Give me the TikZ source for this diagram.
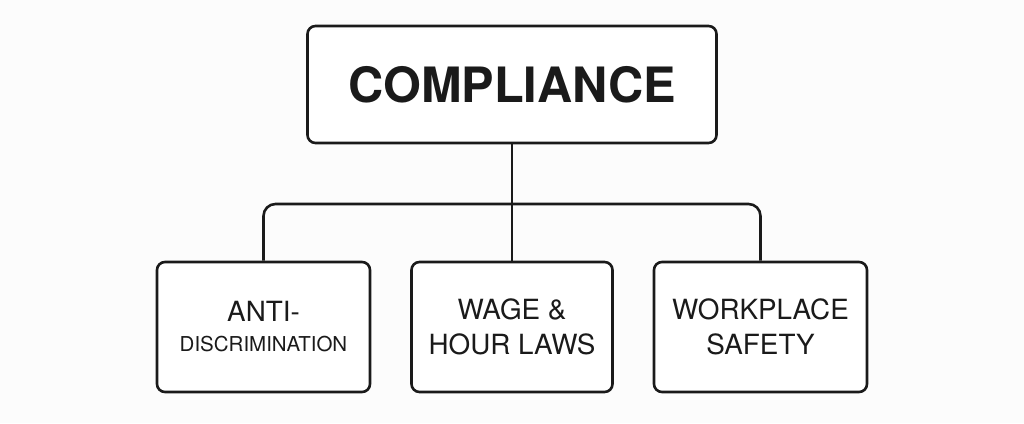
\documentclass[tikz,border=0pt]{standalone}
\usepackage{fontspec}
\setmainfont{TeX Gyre Heros}
\definecolor{ink}{HTML}{1A1A1A}
\definecolor{bg}{HTML}{FCFCFC}
\begin{document}
\begin{tikzpicture}[x=1pt,y=1pt,
  box/.style={draw=ink, line width=2.6pt, rounded corners=8pt, fill=white, inner sep=0pt, align=center, text=ink},
  link/.style={draw=ink, line width=2.6pt}]
\fill[bg] (0,0) rectangle (1024,423);
\useasboundingbox (0,0) rectangle (1024,423);
\node[box, minimum width=409pt, minimum height=117pt, font=\bfseries\fontsize{48.7}{58}\selectfont] (top) at (512,338.5) {COMPLIANCE};
\node[box, minimum width=213pt, minimum height=130pt, font=\fontsize{27.8}{31}\selectfont] (anti) at (263.5,96) {ANTI-\\[-1pt]{\fontsize{20.5}{31}\selectfont DISCRIMINATION}};
\node[box, minimum width=201pt, minimum height=130pt, font=\fontsize{27.8}{35}\selectfont] (wage) at (512,96) {WAGE \&\\HOUR LAWS};
\node[box, minimum width=213pt, minimum height=130pt, font=\fontsize{27.8}{35}\selectfont] (safe) at (760.5,96) {WORKPLACE\\SAFETY};
\coordinate (hy) at (512,219);
\draw[link] (top.south) -- (wage.north);
\draw[link, rounded corners=12pt] (anti.north) -- (anti.north |- hy) -- (safe.north |- hy) -- (safe.north);
\end{tikzpicture}
\end{document}
